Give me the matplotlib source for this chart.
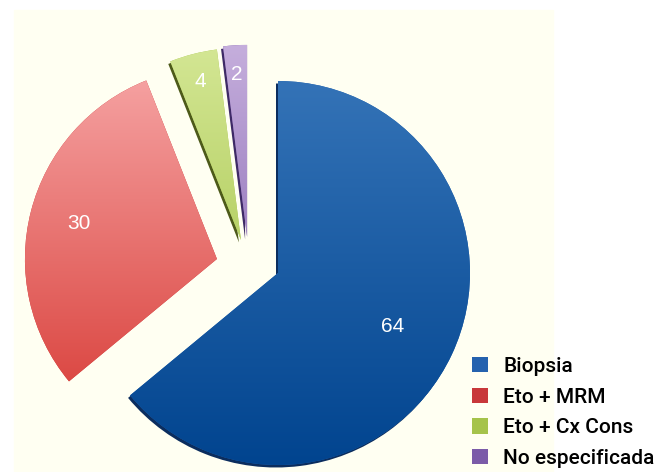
import numpy as np
import matplotlib.pyplot as plt
from matplotlib.colors import LinearSegmentedColormap
from matplotlib.patches import Rectangle, Wedge

labels = ['Biopsia', 'Eto + MRM', 'Eto + Cx Cons', 'No especificada']
values = [64, 30, 4, 2]

legend_colors = ['#2562ae', '#c8383a', '#a5c34b', '#7b5ba8']
top_colors = ['#3473b7', '#f6a4a4', '#d3e693', '#c5aedc']
bottom_colors = ['#01448f', '#d6352f', '#9cbd3c', '#7452a6']
rim_colors = ['#0b2d5e', None, '#4d5a1a', '#3e2a66']

# how far each slice is pulled out (radius units) and where its number sits
offsets = [(0, 0), (-0.318, 0.073), (-0.193, 0.172), (-0.161, 0.188)]
label_r = [0.66, 0.74, 0.85, 0.85]

W, H = 667, 472
R = 192.0            # pie radius in pixels
cx_px, cy_px = 278, 273

fig = plt.figure(figsize=(W / 100, H / 100), dpi=100, facecolor='white')
ax = fig.add_axes([0, 0, 1, 1])
ax.axis('off')

# cream panel behind the pie
ax.add_patch(Rectangle((14 / W, 0), (553 - 14) / W, (H - 10) / H,
                       transform=ax.transAxes, color='#fffff2', zorder=0))

wedges, _ = ax.pie(values, startangle=90, counterclock=False,
                   colors=legend_colors, radius=1,
                   wedgeprops=dict(linewidth=0, zorder=2))

sh = (-2.0 / R, -2.5 / R)
for i, w in enumerate(wedges):
    w.set_center(offsets[i])
    cx, cy = offsets[i]
    if rim_colors[i]:
        rim = Wedge((cx + sh[0], cy + sh[1]), 1, w.theta1, w.theta2,
                    color=rim_colors[i], lw=0, zorder=1)
        ax.add_patch(rim)
    cmap = LinearSegmentedColormap.from_list('g%d' % i, [top_colors[i], bottom_colors[i]])
    grad = np.linspace(0, 1, 256).reshape(-1, 1)
    im = ax.imshow(grad, cmap=cmap, extent=[cx - 1, cx + 1, cy - 1, cy + 1],
                   aspect='auto', zorder=3, interpolation='bilinear')
    im.set_clip_path(w)
    ang = np.deg2rad((w.theta1 + w.theta2) / 2)
    ax.text(cx + label_r[i] * np.cos(ang), cy + label_r[i] * np.sin(ang),
            str(values[i]), color='white', fontsize=15, ha='center', va='center',
            family='Liberation Sans', zorder=5)

ax.set_aspect('auto')
ax.set_xlim(-cx_px / R, (W - cx_px) / R)
ax.set_ylim(-(H - cy_px) / R, cy_px / R)

ax.legend(wedges, labels, loc='upper left', bbox_to_anchor=(472 / W, (H - 357) / H),
          bbox_transform=fig.transFigure, frameon=False, borderpad=0, borderaxespad=0,
          prop=dict(family='Roboto', weight='medium', size=15),
          handlelength=0.75, handleheight=0.75, handletextpad=0.75, labelspacing=0.56)

fig.savefig('out.png', dpi=100, facecolor='white')
